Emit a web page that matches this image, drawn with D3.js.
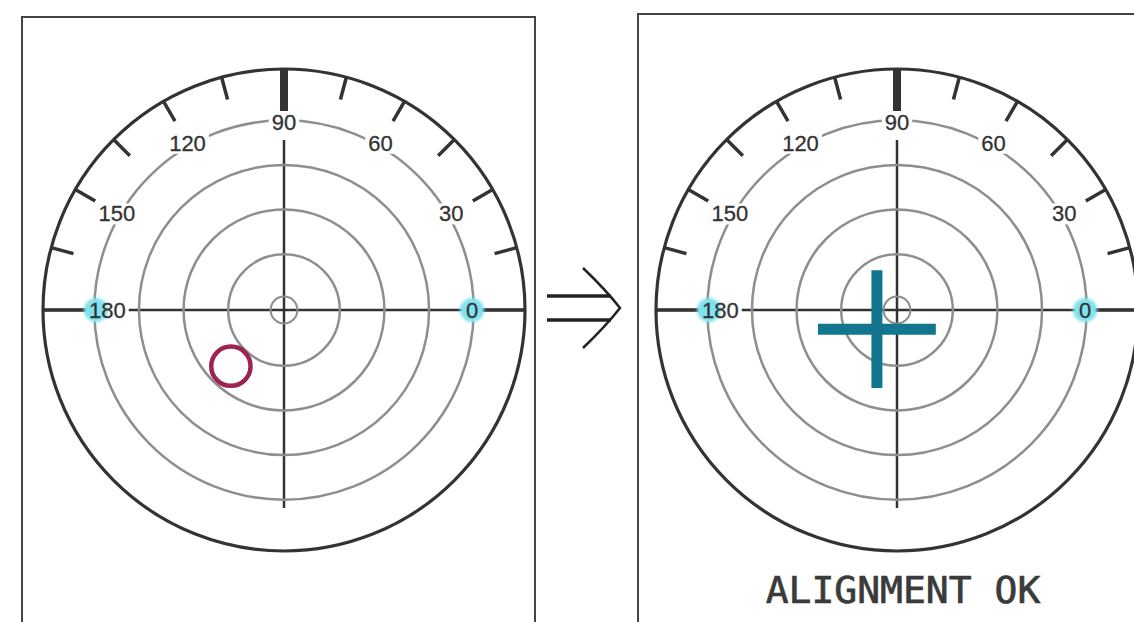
<!DOCTYPE html>
<html>
<head>
<meta charset="utf-8">
<script src="https://cdn.jsdelivr.net/npm/d3@7"></script>
<style>
  body { margin: 0; background: #fff; }
  svg { display: block; }
</style>
</head>
<body>
<div id="GraphContainer"></div>
<script>
// scale marks (degrees) round the outer edge
const tickAngles = [15, 30, 45, 60, 75, 90, 105, 120, 135, 150, 165];
const labelAngles = [0, 30, 60, 90, 120, 150, 180];
const markerAngles = [0, 180];
// ring radii, in the same units as the offsets
const ringValues = [0.3, 1.25, 2.25, 3.25, 4.25];
const outerValue = 5.4;
// measured offset before alignment (circle) and after (cross)
const beforePoints = [{ x: -1.19, y: -1.26, size: 0.44 }];
const afterPoints = [{ x: -0.45, y: -0.43, size: 1.32 }];
const panelTitles = ['', 'ALIGNMENT OK'];

document.addEventListener('DOMContentLoaded', function () {
  const width = 1134;
  const height = 622;
  const radius = 241;

  const svg = d3.select('#GraphContainer')
    .append('svg')
    .attr('width', width)
    .attr('height', height);

  const defs = svg.append('defs');
  defs.append('filter')
    .attr('id', 'glow')
    .attr('x', '-50%').attr('y', '-50%')
    .attr('width', '200%').attr('height', '200%')
    .append('feGaussianBlur')
    .attr('stdDeviation', 1.6);

  const rScale = d3.scaleLinear().domain([0, outerValue]).range([0, radius]);
  const angleScale = d3.scaleLinear().domain([0, 180]).range([0, Math.PI]);

  const panels = [
    { frame: [22, 17, 513, 640], cx: 284, cy: 310, points: beforePoints, kind: 'circle', title: panelTitles[0] },
    { frame: [638, 14, 520, 640], cx: 897, cy: 310, points: afterPoints, kind: 'cross', title: panelTitles[1] }
  ];

  panels.forEach(drawPanel);
  drawArrow();

  function drawPanel(p) {
    svg.append('rect')
      .attr('x', p.frame[0])
      .attr('y', p.frame[1])
      .attr('width', p.frame[2])
      .attr('height', p.frame[3])
      .attr('fill', 'none')
      .attr('stroke', '#444')
      .attr('stroke-width', 2);

    const xScale = d3.scaleLinear().domain([-outerValue, outerValue]).range([p.cx - radius, p.cx + radius]);
    const yScale = d3.scaleLinear().domain([-outerValue, outerValue]).range([p.cy + radius, p.cy - radius]);

    const g = svg.append('g');
    const polar = (deg, r) => [
      p.cx + r * Math.cos(angleScale(deg)),
      p.cy - r * Math.sin(angleScale(deg))
    ];

    // crosshair
    g.append('line')
      .attr('x1', p.cx - radius).attr('x2', p.cx + radius)
      .attr('y1', p.cy).attr('y2', p.cy)
      .attr('stroke', '#333').attr('stroke-width', 2.5);
    g.append('line')
      .attr('x1', p.cx).attr('x2', p.cx)
      .attr('y1', p.cy - 170).attr('y2', p.cy + 198)
      .attr('stroke', '#333').attr('stroke-width', 2.5);
    // heavier ends of the horizontal axis
    [-1, 1].forEach(s => {
      g.append('line')
        .attr('x1', p.cx + s * 192).attr('x2', p.cx + s * radius)
        .attr('y1', p.cy).attr('y2', p.cy)
        .attr('stroke', '#333').attr('stroke-width', 3.5);
    });

    // rings
    g.selectAll('circle.ring')
      .data(ringValues)
      .enter()
      .append('circle')
      .attr('class', 'ring')
      .attr('cx', p.cx)
      .attr('cy', p.cy)
      .attr('r', d => rScale(d))
      .attr('fill', 'none')
      .attr('stroke', '#8e8e8e')
      .attr('stroke-width', d => d < 1 ? 2 : 2.5);

    // outer circle
    g.append('circle')
      .attr('cx', p.cx)
      .attr('cy', p.cy)
      .attr('r', rScale(outerValue))
      .attr('fill', 'none')
      .attr('stroke', '#333')
      .attr('stroke-width', 3.2);

    // ticks
    g.selectAll('line.tick')
      .data(tickAngles)
      .enter()
      .append('line')
      .attr('class', 'tick')
      .attr('x1', d => polar(d, radius)[0])
      .attr('y1', d => polar(d, radius)[1])
      .attr('x2', d => polar(d, d === 90 ? 199 : 218)[0])
      .attr('y2', d => polar(d, d === 90 ? 199 : 218)[1])
      .attr('stroke', '#333')
      .attr('stroke-width', d => d === 90 ? 8 : 3.5);

    // angle labels with a white patch behind
    const labelR = d => (d === 0 || d === 90 || d === 180) ? 188 : 193;
    const labels = g.selectAll('g.lab')
      .data(labelAngles)
      .enter()
      .append('g')
      .attr('class', 'lab')
      .attr('transform', d => `translate(${polar(d, labelR(d))[0]},${polar(d, labelR(d))[1]})`);

    labels.append('rect')
      .attr('fill', '#fff');

    labels.filter(d => markerAngles.includes(d))
      .append('circle')
      .attr('r', 12)
      .attr('fill', '#7fe2ee')
      .attr('filter', 'url(#glow)');

    labels.append('text')
      .attr('text-anchor', d => d === 180 ? 'start' : 'middle')
      .attr('x', d => d === 180 ? -7 : 0)
      .attr('dy', '0.36em')
      .style('font-family', '"Liberation Sans", Arial, sans-serif')
      .style('font-size', '22px')
      .attr('fill', '#333')
      .attr('stroke', '#333')
      .attr('stroke-width', 0.3)
      .text(d => d);

    labels.each(function () {
      const box = d3.select(this).select('text').node().getBBox();
      d3.select(this).select('rect')
        .attr('x', box.x - 3)
        .attr('y', box.y + 2)
        .attr('width', box.width + 6)
        .attr('height', box.height - 4);
    });

    // result mark
    if (p.kind === 'circle') {
      g.selectAll('circle.shot')
        .data(p.points)
        .enter()
        .append('circle')
        .attr('class', 'shot')
        .attr('cx', d => xScale(d.x))
        .attr('cy', d => yScale(d.y))
        .attr('r', d => rScale(d.size))
        .attr('fill', 'none')
        .attr('stroke', '#9e2350')
        .attr('stroke-width', 4.5);
    } else {
      const cross = g.selectAll('g.cross')
        .data(p.points)
        .enter()
        .append('g')
        .attr('class', 'cross');
      cross.append('line')
        .attr('x1', d => xScale(d.x - d.size)).attr('x2', d => xScale(d.x + d.size))
        .attr('y1', d => yScale(d.y)).attr('y2', d => yScale(d.y))
        .attr('stroke', '#12768f').attr('stroke-width', 11);
      cross.append('line')
        .attr('x1', d => xScale(d.x)).attr('x2', d => xScale(d.x))
        .attr('y1', d => yScale(d.y + d.size)).attr('y2', d => yScale(d.y - d.size))
        .attr('stroke', '#12768f').attr('stroke-width', 11);
    }

    if (p.title) {
      svg.append('text')
        .attr('x', p.cx + 6)
        .attr('y', 603)
        .attr('text-anchor', 'middle')
        .style('font-family', '"DejaVu Sans Mono", monospace')
        .style('font-size', '38px')
        .attr('fill', '#3a3a3a')
        .attr('stroke', '#3a3a3a')
        .attr('stroke-width', 0.7)
        .text(p.title);
    }
  }

  function drawArrow() {
    const a = svg.append('g')
      .attr('stroke', '#222')
      .attr('fill', 'none');
    a.append('line').attr('x1', 547).attr('x2', 611).attr('y1', 296).attr('y2', 296).attr('stroke-width', 3.5);
    a.append('line').attr('x1', 547).attr('x2', 611).attr('y1', 320).attr('y2', 320).attr('stroke-width', 3.5);
    a.append('path')
      .attr('d', 'M583,268 Q606,290 620,308 Q606,326 583,348')
      .attr('stroke-width', 2.5);
  }
});
</script>
</body>
</html>
